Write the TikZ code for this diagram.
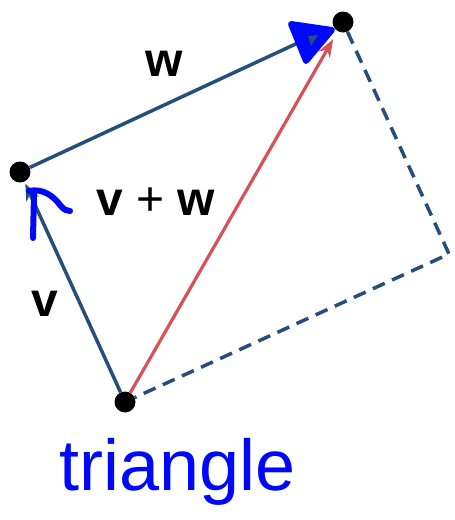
\documentclass[tikz,border=0pt]{standalone}
\usepackage{fontspec}
\setmainfont{Liberation Sans}
\usetikzlibrary{arrows.meta}

\definecolor{vecblue}{RGB}{38,78,124}
\definecolor{sumred}{RGB}{214,82,86}
\definecolor{inkblue}{RGB}{0,8,250}

\tikzset{
    dot/.style={circle, fill=black, inner sep=0pt, minimum size=21pt},
    vec/.style={line width=3.5pt, draw=vecblue, -{Stealth[length=17pt,width=13pt]}},
    sumvec/.style={line width=3.2pt, draw=sumred, -{Stealth[length=18pt,width=13pt]}},
    dashedge/.style={line width=3.5pt, draw=vecblue, dash pattern=on 13pt off 8pt},
    lbl/.style={inner sep=0pt, anchor=base, font=\fontsize{48}{48}\selectfont},
    ink/.style={line width=6pt, draw=inkblue, line cap=round, line join=round},
}

\begin{document}
\begin{tikzpicture}[x=1pt, y=-1pt]
    \useasboundingbox (0,0) rectangle (455,520);

    % Corner points
    \node[dot] (o) at (125,402) {};
    \node[dot] (v) at (20,172) {};
    \node[dot] (t) at (343,22) {};
    \coordinate (r) at (449,254);

    % Completing the parallelogram
    \draw[dashedge] (t) -- (r) -- (o);

    % v, w and their sum
    \draw[vec, shorten >=2pt] (o) -- (v);
    \draw[vec, shorten >=6pt] (v) -- (t);
    \draw[sumvec, shorten >=9pt] (o) -- (t);

    % Labels
    \node[lbl] (wlab) at (164,76) {\bfseries w};
    \node[lbl] (vlab) at (45,316) {\bfseries v};
    \node[lbl, anchor=base west] (sumlab) at (96,215) {\textbf{v} + \textbf{w}};

    % Hand-drawn marks
    \draw[ink] (33,238) -- (34,194);
    \draw[ink] (29,191) .. controls (44,188) and (54,197) .. (60,205) .. controls (64,210) and (67,211) .. (70,211);
    \filldraw[ink, fill=inkblue] (291,24) -- (332,30) -- (306,61) -- cycle;
    \fill[vecblue] (308,36) -- (318,35) -- (311,46) -- cycle;
    \node[inner sep=0pt, anchor=base, text=inkblue, font=\fontsize{72}{72}\selectfont] (tri) at (178,490) {triangle};
\end{tikzpicture}
\end{document}
